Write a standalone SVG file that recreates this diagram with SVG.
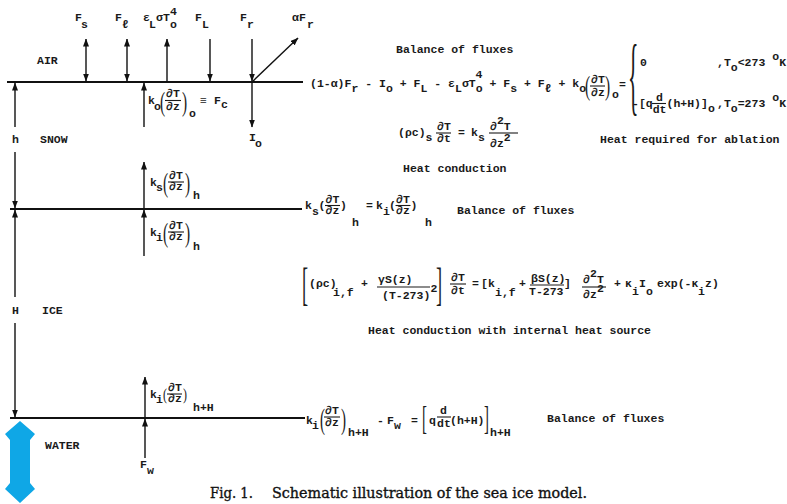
<svg xmlns="http://www.w3.org/2000/svg" width="787" height="504" viewBox="0 0 787 504">
<defs>
<style>
.m{font-family:"Liberation Mono","DejaVu Sans Mono",monospace;font-size:11.5px;font-weight:bold;fill:#1a1a1a;white-space:pre}
.d{font-family:"Liberation Serif","DejaVu Serif",serif;fill:#1a1a1a}
.cap{font-family:"DejaVu Serif","Liberation Serif",serif;font-size:14.5px;fill:#111;stroke:#111;stroke-width:0.35}
.hl{stroke:#111;stroke-width:2;fill:none}
.ar{stroke:#111;stroke-width:1.4;fill:none}
.fb{stroke:#1a1a1a;stroke-width:1.1}
</style>
<marker id="ah" viewBox="0 0 8 6" refX="7.5" refY="3" markerWidth="8" markerHeight="6" markerUnits="userSpaceOnUse" orient="auto-start-reverse">
<path d="M0,0 L8,3 L0,6 z" fill="#111"/>
</marker>
</defs>
<rect width="787" height="504" fill="#fff"/>

<g id="connectors">
<line class="hl" x1="7" y1="82" x2="303" y2="82"/>
<line class="hl" x1="10" y1="209" x2="302" y2="209"/>
<line class="hl" x1="10" y1="418" x2="305" y2="418"/>
<line class="ar" x1="86" y1="39" x2="86" y2="81" marker-start="url(#ah)" marker-end="url(#ah)"/>
<line class="ar" x1="127" y1="39" x2="127" y2="81" marker-start="url(#ah)" marker-end="url(#ah)"/>
<line class="ar" x1="167" y1="82" x2="167" y2="39" marker-end="url(#ah)"/>
<line class="ar" x1="210" y1="39" x2="210" y2="81" marker-end="url(#ah)"/>
<line class="ar" x1="252" y1="39" x2="252" y2="81" marker-end="url(#ah)"/>
<line class="ar" x1="252" y1="82" x2="298" y2="38" marker-end="url(#ah)"/>
<line class="ar" x1="252" y1="82" x2="252" y2="127" marker-end="url(#ah)"/>
<line class="ar" x1="144" y1="127" x2="144" y2="83" marker-end="url(#ah)"/>
<line class="ar" x1="15" y1="127" x2="15" y2="83" marker-end="url(#ah)"/>
<line class="ar" x1="15" y1="152" x2="15" y2="208" marker-end="url(#ah)"/>
<line class="ar" x1="15" y1="297" x2="15" y2="210" marker-end="url(#ah)"/>
<line class="ar" x1="15" y1="323" x2="15" y2="417" marker-end="url(#ah)"/>
<line class="ar" x1="144" y1="209" x2="144" y2="162" marker-end="url(#ah)"/>
<line class="ar" x1="144" y1="256" x2="144" y2="210" marker-end="url(#ah)"/>
<line class="ar" x1="145" y1="418" x2="145" y2="377" marker-end="url(#ah)"/>
<line class="ar" x1="145" y1="458" x2="145" y2="419" marker-end="url(#ah)"/>
</g>

<g id="water-arrow">
<polygon points="20,421 35,434 30,440 30,483 35,489 20,503 5,489 10,483 10,440 5,434" fill="#0FA7E6"/>
</g>

<g id="layers">
<text class="m" x="37" y="64">AIR</text>
<text class="m" x="40" y="143">SNOW</text>
<text class="m" x="42" y="314">ICE</text>
<text class="m" x="45" y="449">WATER</text>
<text class="m" x="12" y="143">h</text>
<text class="m" x="12" y="314">H</text>
</g>

<g id="air-fluxes">
<text class="m" x="75" y="21">F</text><text class="m" x="81" y="28">s</text>
<text class="m" x="115" y="21">F</text><text class="m" x="122" y="28">ℓ</text>
<text class="m" x="143" y="21">ε</text><text class="m" x="149" y="28">L</text><text class="m" x="156" y="21">σT</text><text class="m" x="170" y="28">o</text><text class="m" x="170" y="15">4</text>
<text class="m" x="195" y="21">F</text><text class="m" x="202" y="28">L</text>
<text class="m" x="240" y="21">F</text><text class="m" x="247" y="28">r</text>
<text class="m" x="292" y="21">αF</text><text class="m" x="307" y="28">r</text>
<text class="m" x="249" y="141">I</text><text class="m" x="255" y="147">o</text>
</g>

<g id="surface-conduction">
<text class="m" x="148" y="104">k</text><text class="m" x="154" y="110">o</text>
<text class="d" font-size="28" transform="translate(160,111) scale(0.55,1)">(</text>
<text class="m" x="166" y="97">∂T</text><line class="fb" x1="165" y1="100.5" x2="181" y2="100.5"/><text class="m" x="166" y="110">∂z</text>
<text class="d" font-size="28" transform="translate(182,111) scale(0.55,1)">)</text>
<text class="m" x="189" y="117">o</text>
<text class="m" x="200" y="104">≡</text>
<text class="m" x="214" y="104">F</text><text class="m" x="221" y="108">c</text>
</g>

<g id="snow-ice-fluxes">
<text class="m" x="150" y="186">k</text><text class="m" x="156" y="191">s</text>
<text class="d" font-size="28" transform="translate(163,192) scale(0.55,1)">(</text>
<text class="m" x="169" y="179">∂T</text><line class="fb" x1="168" y1="182" x2="184" y2="182"/><text class="m" x="169" y="190">∂z</text>
<text class="d" font-size="28" transform="translate(185,192) scale(0.55,1)">)</text>
<text class="m" x="193" y="199">h</text>
<text class="m" x="150" y="236">k</text><text class="m" x="156" y="241">i</text>
<text class="d" font-size="28" transform="translate(163,242) scale(0.55,1)">(</text>
<text class="m" x="169" y="229">∂T</text><line class="fb" x1="168" y1="232" x2="184" y2="232"/><text class="m" x="169" y="240">∂z</text>
<text class="d" font-size="28" transform="translate(185,242) scale(0.55,1)">)</text>
<text class="m" x="193" y="250">h</text>
</g>

<g id="ice-water-fluxes">
<text class="m" x="150" y="398">k</text><text class="m" x="156" y="403">i</text>
<text class="d" font-size="17" transform="translate(163,400) scale(0.7,1)">(</text>
<text class="m" x="168" y="391">∂T</text><line class="fb" x1="167" y1="394" x2="182" y2="394"/><text class="m" x="168" y="402">∂z</text>
<text class="d" font-size="17" transform="translate(183,400) scale(0.7,1)">)</text>
<text class="m" x="193" y="411">h+H</text>
<text class="m" x="140" y="468">F</text><text class="m" x="147" y="474">w</text>
</g>

<g id="eq-surface">
<text class="m" x="396" y="53">Balance of fluxes</text>
<text class="m" x="310" y="87">(1-α)F<tspan dy="5">r</tspan><tspan dy="-5"> - I</tspan><tspan dy="5">o</tspan><tspan dy="-5"> + F</tspan><tspan dy="5">L</tspan><tspan dy="-5"> - ε</tspan><tspan dy="5">L</tspan><tspan dy="-5">σT</tspan><tspan dy="5">o</tspan><tspan dy="-5"> + F</tspan><tspan dy="5">s</tspan><tspan dy="-5"> + F</tspan><tspan dy="5">ℓ</tspan><tspan dy="-5"> + k</tspan><tspan dy="5">o</tspan></text>
<text class="m" x="475.6" y="78">4</text>
<text class="d" font-size="28" transform="translate(585,95) scale(0.55,1)">(</text>
<text class="m" x="591" y="83">∂T</text><line class="fb" x1="590" y1="86" x2="605" y2="86"/><text class="m" x="591" y="96">∂z</text>
<text class="d" font-size="28" transform="translate(605,95) scale(0.55,1)">)</text>
<text class="m" x="612" y="98">o</text>
<text class="m" x="619" y="88">=</text>
<text class="d" font-size="87" transform="translate(628,104) scale(0.25,1)">{</text>
<text class="m" x="640" y="66">0</text>
<text class="m" x="717" y="66">,T<tspan dy="5">o</tspan><tspan dy="-5">&lt;273 </tspan><tspan dy="-6">o</tspan><tspan dy="6">K</tspan></text>
<text class="m" x="632" y="107">-[q</text>
<text class="m" x="656" y="101">d</text><line class="fb" x1="652" y1="103.5" x2="666" y2="103.5"/><text class="m" x="652.7" y="113">dt</text>
<text class="m" x="666.5" y="107">(h+H)]</text>
<text class="m" x="707.9" y="112">o</text>
<text class="m" x="717" y="107">,T<tspan dy="5">o</tspan><tspan dy="-5">=273 </tspan><tspan dy="-6">o</tspan><tspan dy="6">K</tspan></text>
<text class="m" x="600" y="143">Heat required for ablation</text>
</g>

<g id="eq-snow">
<text class="m" x="398" y="136">(ρc)</text><text class="m" x="425.6" y="141">s</text>
<text class="m" x="437" y="130">∂T</text><line class="fb" x1="436" y1="133" x2="451" y2="133"/><text class="m" x="437" y="142">∂t</text>
<text class="m" x="458" y="136">=</text>
<text class="m" x="471" y="136">k</text><text class="m" x="477.9" y="141">s</text>
<text class="m" x="490" y="130">∂</text><text class="m" x="496.9" y="124">2</text><text class="m" x="503.8" y="130">T</text>
<line class="fb" x1="489" y1="133" x2="518" y2="133"/>
<text class="m" x="490" y="147">∂z</text><text class="m" x="503.8" y="141">2</text>
<text class="m" x="403" y="172">Heat conduction</text>
</g>

<g id="eq-snow-ice">
<text class="m" x="305" y="209">k</text><text class="m" x="312" y="215">s</text>
<text class="m" x="318.5" y="209">(</text>
<text class="m" x="325.5" y="203">∂T</text><line class="fb" x1="325" y1="205.5" x2="340" y2="205.5"/><text class="m" x="325.5" y="214">∂z</text>
<text class="m" x="340" y="209">)</text>
<text class="m" x="352" y="226">h</text>
<text class="m" x="366" y="209">=</text>
<text class="m" x="376" y="209">k</text><text class="m" x="383" y="215">i</text>
<text class="m" x="389" y="209">(</text>
<text class="m" x="396" y="203">∂T</text><line class="fb" x1="395.5" y1="205.5" x2="410.5" y2="205.5"/><text class="m" x="396" y="214">∂z</text>
<text class="m" x="410.5" y="209">)</text>
<text class="m" x="425" y="226">h</text>
<text class="m" x="457" y="214">Balance of fluxes</text>
</g>

<g id="eq-ice">
<text class="d" font-size="46" transform="translate(302,300) scale(0.4,1)">[</text>
<text class="m" x="309" y="287">(ρc)</text><text class="m" x="333" y="296">i,f</text>
<text class="m" x="361" y="287">+</text>
<text class="m" x="378" y="283">γS(z)</text><line class="fb" x1="377" y1="287" x2="430" y2="287"/>
<text class="m" x="382" y="299">(T-273)</text><text class="m" x="430.5" y="292">2</text>
<text class="d" font-size="46" transform="translate(436,300) scale(0.4,1)">]</text>
<text class="m" x="451" y="281">∂T</text><line class="fb" x1="450" y1="284" x2="466" y2="284"/><text class="m" x="451" y="294">∂t</text>
<text class="m" x="472" y="287">=</text>
<text class="m" x="481" y="287">[k</text><text class="m" x="495" y="296">i,f</text>
<text class="m" x="519" y="287">+</text>
<text class="m" x="531" y="282">βS(z)</text><line class="fb" x1="530" y1="285" x2="564" y2="285"/><text class="m" x="529" y="295">T-273</text>
<text class="m" x="564" y="287">]</text>
<text class="m" x="583" y="283">∂</text><text class="m" x="590" y="277">2</text><text class="m" x="597" y="283">T</text>
<line class="fb" x1="582" y1="287" x2="606" y2="287"/>
<text class="m" x="583" y="298">∂z</text><text class="m" x="597" y="292">2</text>
<text class="m" x="614" y="287">+</text>
<text class="m" x="625" y="287">κ</text><text class="m" x="632" y="295">i</text>
<text class="m" x="639" y="287">I</text><text class="m" x="646" y="295">o</text>
<text class="m" x="657" y="287">exp(-κ</text><text class="m" x="698" y="295">i</text><text class="m" x="705" y="287">z)</text>
<text class="m" x="368" y="334">Heat conduction with internal heat source</text>
</g>

<g id="eq-bottom">
<text class="m" x="306" y="424">k</text><text class="m" x="312" y="429">i</text>
<text class="d" font-size="30" transform="translate(320,429) scale(0.5,1)">(</text>
<text class="m" x="325" y="414">∂T</text><line class="fb" x1="324" y1="417" x2="340" y2="417"/><text class="m" x="325" y="426">∂z</text>
<text class="d" font-size="30" transform="translate(341,429) scale(0.5,1)">)</text>
<text class="m" x="348" y="436">h+H</text>
<text class="m" x="377" y="424">-</text>
<text class="m" x="387" y="424">F</text><text class="m" x="394" y="429">w</text>
<text class="m" x="411" y="424">=</text>
<text class="d" font-size="33" transform="translate(422,429) scale(0.45,1)">[</text>
<text class="m" x="429" y="424">q</text>
<text class="m" x="440" y="414">d</text><line class="fb" x1="437" y1="417" x2="451" y2="417"/><text class="m" x="437" y="427">dt</text>
<text class="m" x="450" y="424">(h+H)</text>
<text class="d" font-size="33" transform="translate(484,429) scale(0.45,1)">]</text>
<text class="m" x="490" y="436">h+H</text>
<text class="m" x="547" y="422">Balance of fluxes</text>
</g>

<g id="caption">
<text class="cap" x="210" y="498" textLength="43" lengthAdjust="spacingAndGlyphs">Fig. 1.</text>
<text class="cap" x="272" y="498" textLength="315" lengthAdjust="spacingAndGlyphs">Schematic illustration of the sea ice model.</text>
</g>
</svg>
